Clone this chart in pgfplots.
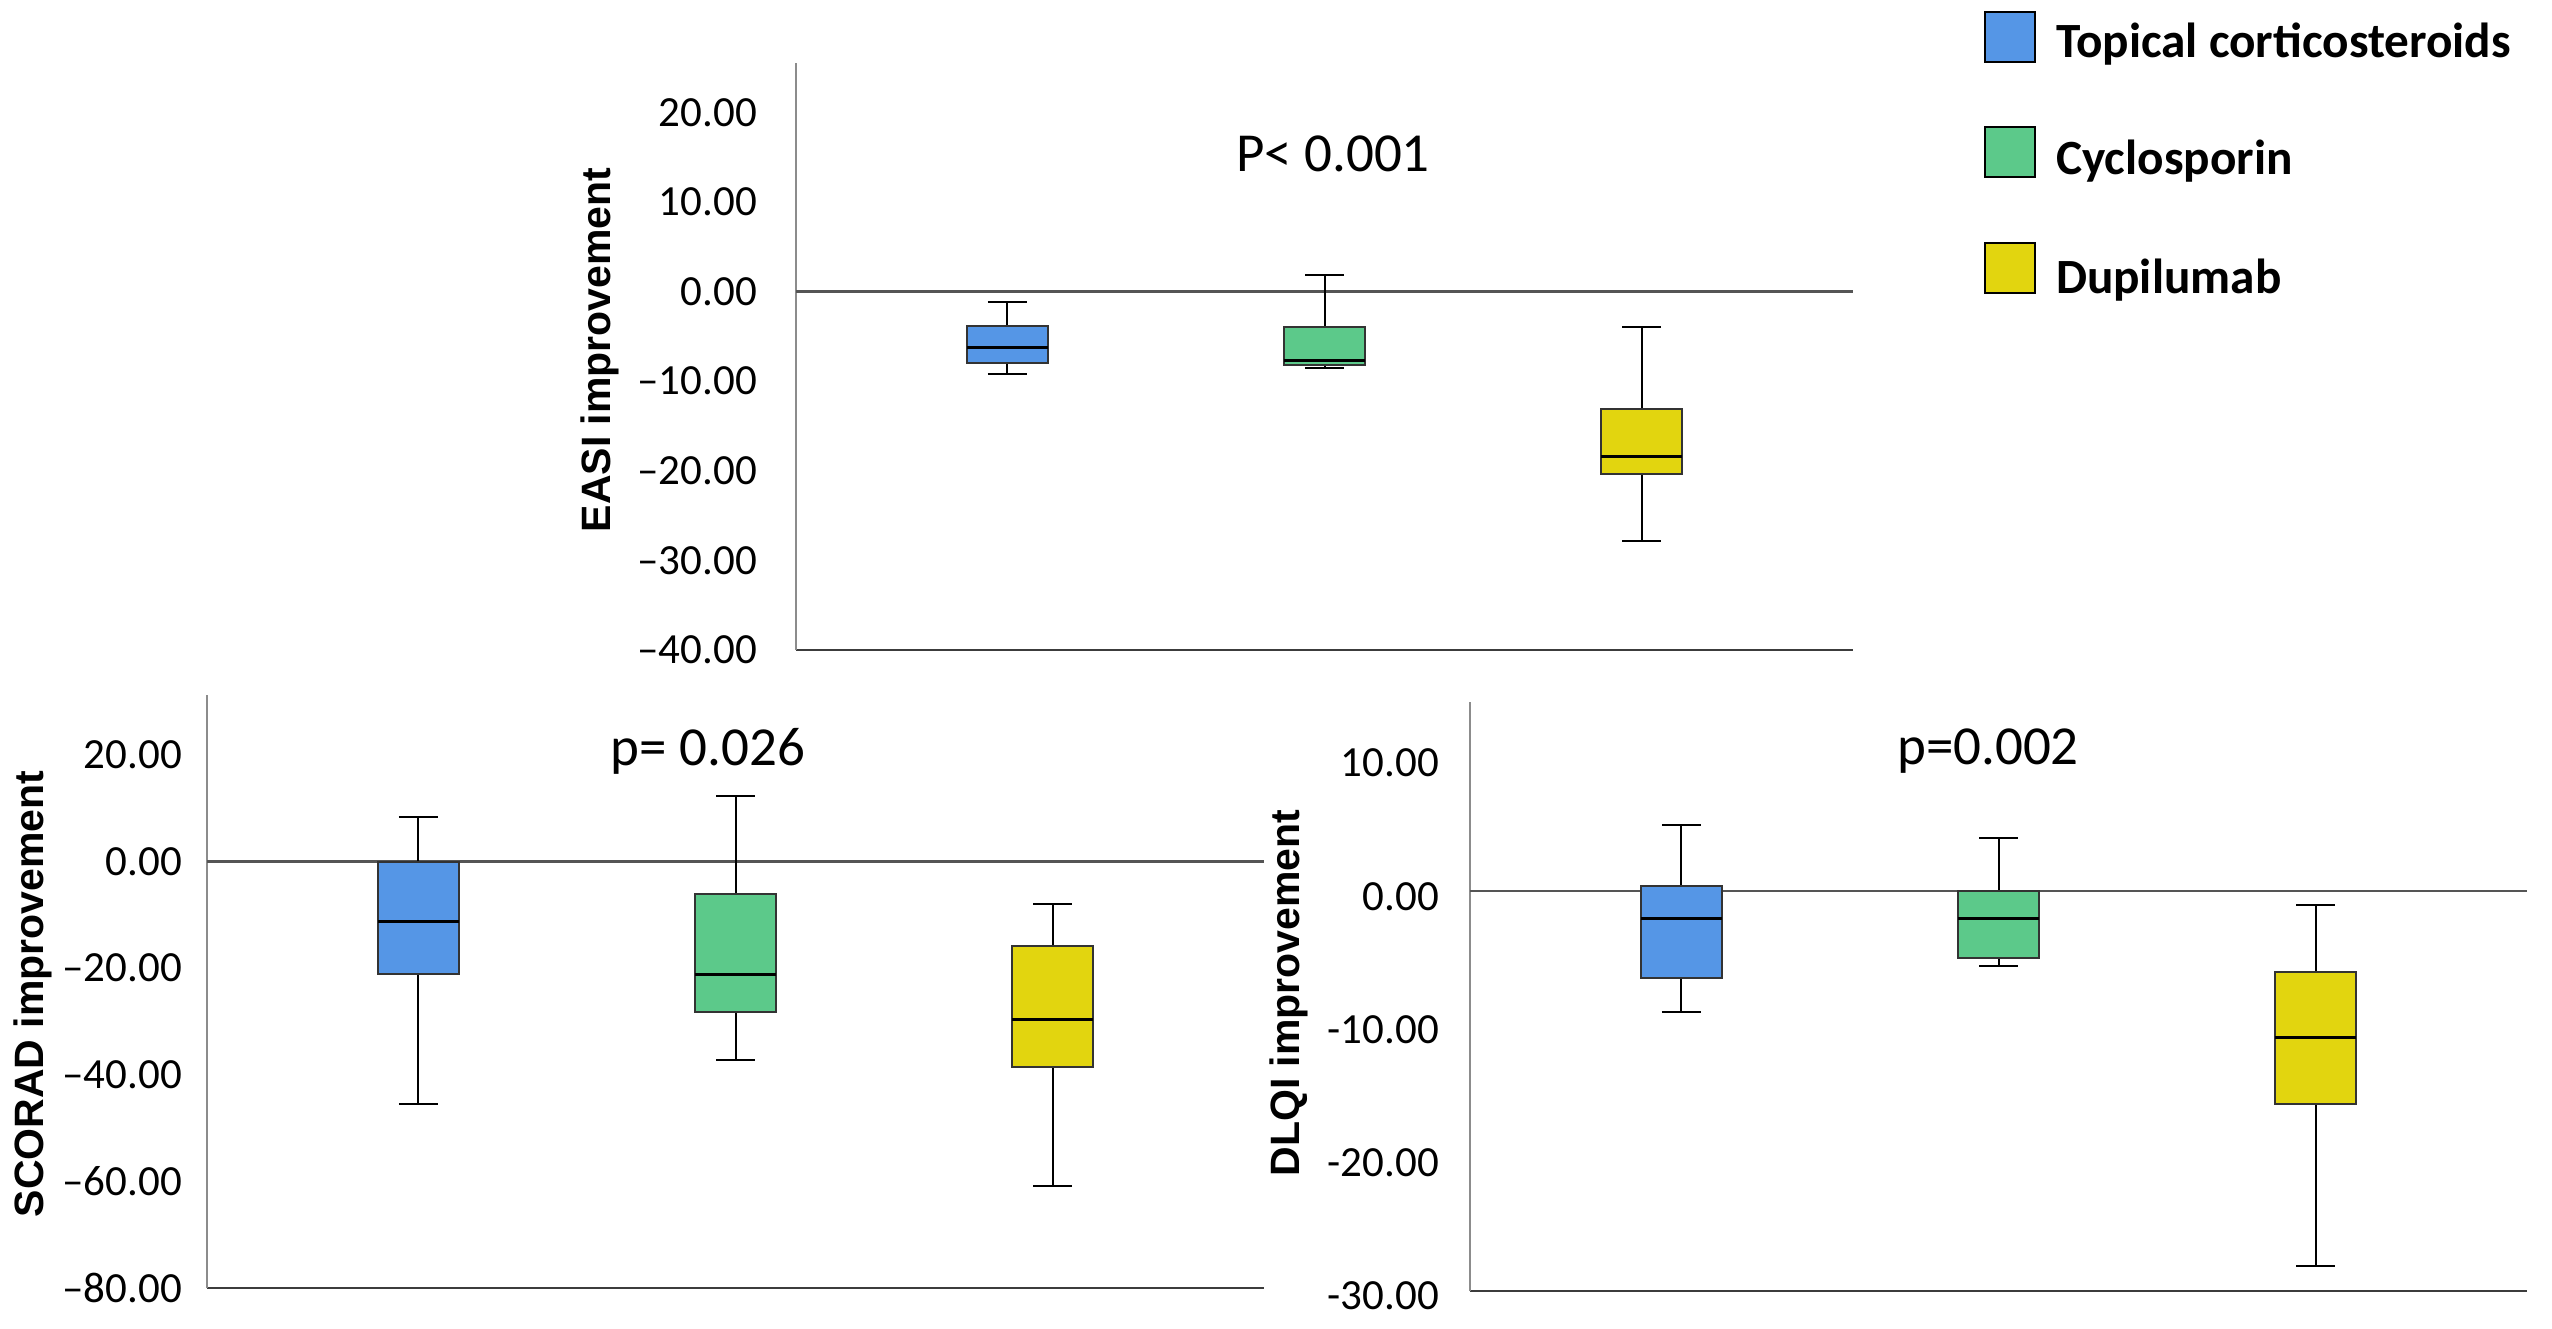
\documentclass[border=0pt]{standalone}
\usepackage{fontspec}
\setmainfont{Carlito}
\newfontfamily\arialfont{Liberation Sans}
\usepackage{pgfplots}
\pgfplotsset{compat=1.18}
\usepgfplotslibrary{statistics}
\definecolor{tcblue}{HTML}{5596E6}
\definecolor{cygreen}{HTML}{5CC98A}
\definecolor{duyellow}{HTML}{E2D50F}
\definecolor{boxedge}{HTML}{333333}
\definecolor{axisgray}{HTML}{8C8C8C}
\definecolor{darkline}{HTML}{3C3C3C}
\definecolor{zerogray}{HTML}{555555}
\pgfplotsset{
  panel/.style={
    scale only axis, width=211.4pt, anchor=south west,
    xmin=0.33333, xmax=3.66667, xtick=\empty,
    axis x line*=bottom, axis y line*=left,
    x axis line style={-, draw=darkline, line width=0.45pt},
    y axis line style={-, draw=axisgray, line width=0.45pt},
    major tick length=0pt, tick style={draw=none},
    yticklabel style={font=\fontsize{8.6}{10}\selectfont, inner sep=0pt, anchor=east},
    boxplot/draw direction=y,
    boxplot/every median/.style={draw=black, line width=0.6pt},
    boxplot/every whisker/.style={draw=black, line width=0.4pt},
    boxplot/box extend=0.255,
    boxplot/whisker extend=0.123,
  },
  bx/.style={draw=boxedge, line width=0.4pt},
}
\begin{document}
\begin{tikzpicture}
\path[use as bounding box] (0,0) rectangle (510.4pt,265.6pt);
% EASI
\begin{axis}[panel, at={(159.2pt,135.6pt)}, height=117.4pt,
  ymin=-40, ymax=25.5,
  ytick={-40,-30,-20,-10,0,10,20},
  yticklabels={--40.00,--30.00,--20.00,--10.00,0.00,10.00,20.00},
  yticklabel style={xshift=-7.6pt}]
\addplot[zerogray, line width=0.5pt] coordinates {(0.33333,0) (3.66667,0)};
\addplot[bx, fill=tcblue, boxplot prepared={draw position=1, lower whisker=-9.15, lower quartile=-8.0, median=-6.2, upper quartile=-3.8, upper whisker=-1.15}] coordinates {};
\addplot[bx, fill=cygreen, boxplot prepared={draw position=2, lower whisker=-8.5, lower quartile=-8.2, median=-7.65, upper quartile=-4.0, upper whisker=1.8}] coordinates {};
\addplot[bx, fill=duyellow, boxplot prepared={draw position=3, lower whisker=-27.8, lower quartile=-20.4, median=-18.4, upper quartile=-13.1, upper whisker=-4.0}] coordinates {};
\end{axis}
% SCORAD
\begin{axis}[panel, at={(41.4pt,8.0pt)}, height=118.6pt,
  ymin=-80, ymax=31.25,
  ytick={-80,-60,-40,-20,0,20},
  yticklabels={--80.00,--60.00,--40.00,--20.00,0.00,20.00},
  yticklabel style={xshift=-4.8pt}]
\addplot[zerogray, line width=0.5pt] coordinates {(0.33333,0) (3.66667,0)};
\addplot[bx, fill=tcblue, boxplot prepared={draw position=1, lower whisker=-45.5, lower quartile=-21.0, median=-11.2, upper quartile=-0.08, upper whisker=8.45}] coordinates {};
\addplot[bx, fill=cygreen, boxplot prepared={draw position=2, lower whisker=-37.2, lower quartile=-28.3, median=-21.2, upper quartile=-6.1, upper whisker=12.3}] coordinates {};
\addplot[bx, fill=duyellow, boxplot prepared={draw position=3, lower whisker=-60.9, lower quartile=-38.6, median=-29.6, upper quartile=-15.8, upper whisker=-7.9}] coordinates {};
\end{axis}
% DLQI
\begin{axis}[panel, at={(294.0pt,7.4pt)}, height=117.8pt,
  ymin=-30, ymax=14.2,
  ytick={-30,-20,-10,0,10},
  yticklabels={-30.00,-20.00,-10.00,0.00,10.00},
  yticklabel style={xshift=-6pt, yshift=-1pt}]
\addplot[zerogray, line width=0.5pt] coordinates {(0.33333,0) (3.66667,0)};
\addplot[bx, fill=tcblue, boxplot prepared={draw position=1, lower whisker=-9.06, lower quartile=-6.5, median=-2.03, upper quartile=0.43, upper whisker=4.94}] coordinates {};
\addplot[bx, fill=cygreen, boxplot prepared={draw position=2, lower whisker=-5.6, lower quartile=-5.04, median=-2.03, upper quartile=0.0, upper whisker=4.0}] coordinates {};
\addplot[bx, fill=duyellow, boxplot prepared={draw position=3, lower whisker=-28.1, lower quartile=-16.0, median=-11.0, upper quartile=-6.05, upper whisker=-1.04}] coordinates {};
\end{axis}
% axis titles
\node[rotate=90, inner sep=0pt, font=\arialfont\bfseries\fontsize{8.2}{10}\selectfont] at (120pt,195.6pt) {EASI improvement};
\node[rotate=90, inner sep=0pt, font=\arialfont\bfseries\fontsize{8.2}{10}\selectfont] at (6.6pt,66.8pt) {SCORAD improvement};
\node[rotate=90, inner sep=0pt, font=\arialfont\bfseries\fontsize{8.2}{10}\selectfont] at (257.8pt,67.0pt) {DLQI improvement};
% p values
\node[inner sep=0pt, font=\fontsize{11}{13}\selectfont] at (266.6pt,234.8pt) {P< 0.001};
\node[inner sep=0pt, font=\fontsize{11}{13}\selectfont] at (141.6pt,115.4pt) {p= 0.026};
\node[inner sep=0pt, font=\fontsize{11}{13}\selectfont] at (397.6pt,115.4pt) {p=0.002};
% legend
\draw[fill=tcblue, line width=0.5pt] (397pt,253.2pt) rectangle (407pt,263.2pt);
\draw[fill=cygreen, line width=0.5pt] (397pt,230.2pt) rectangle (407pt,240.2pt);
\draw[fill=duyellow, line width=0.5pt] (397pt,207pt) rectangle (407pt,217pt);
\node[anchor=base west, inner sep=0pt, font=\bfseries\fontsize{9.85}{12}\selectfont] at (411pt,254pt) {Topical corticosteroids};
\node[anchor=base west, inner sep=0pt, font=\bfseries\fontsize{9.85}{12}\selectfont] at (411pt,230.6pt) {Cyclosporin};
\node[anchor=base west, inner sep=0pt, font=\bfseries\fontsize{9.85}{12}\selectfont] at (411pt,207pt) {Dupilumab};
\end{tikzpicture}
\end{document}
